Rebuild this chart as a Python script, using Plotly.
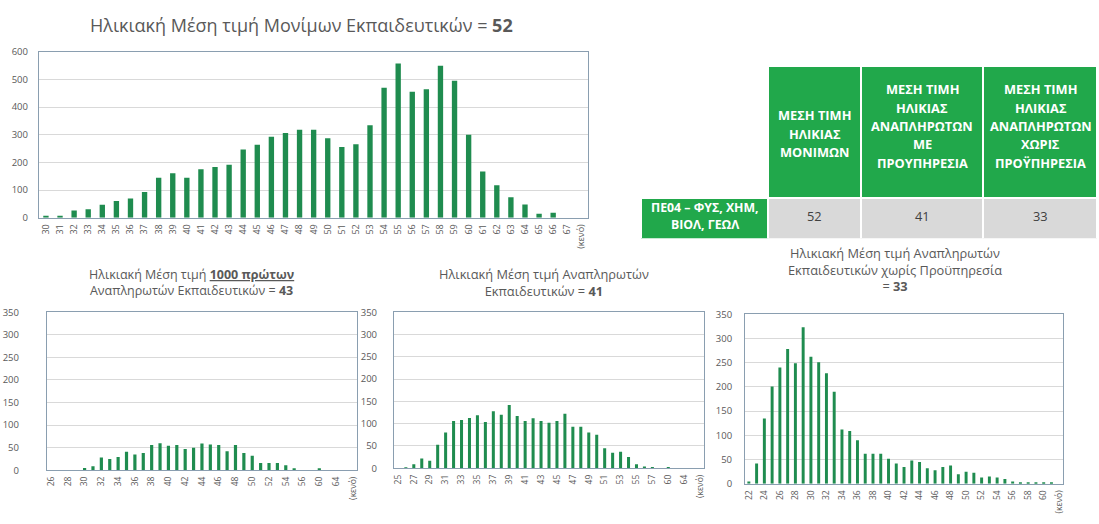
import plotly.graph_objects as go

# ---------------- DATA ----------------
top_cats = [str(a) for a in range(30, 68)] + ["(κενό)"]
top_vals = [5, 5, 26, 30, 47, 60, 69, 93, 144, 161, 144, 175, 183, 191, 247, 264, 293, 306, 318, 318,
            287, 256, 266, 334, 470, 558, 456, 465, 550, 495, 300, 167, 117, 74, 48, 14, 18, 0, 0]

first_cats = [str(a) for a in range(26, 58)] + ["60", "62", "64", "65", "(κενό)"]
first_vals = [0, 0, 0, 0, 5, 9, 28, 25, 29, 41, 35, 38, 56, 60, 54, 56, 47, 50, 59, 57, 56, 42, 56,
              38, 32, 16, 16, 16, 11, 4, 0, 0, 3, 0, 0, 0, 0]

subs_cats = [str(a) for a in range(25, 58)] + ["59", "60", "62", "64", "65", "(κενό)"]
subs_vals = [0, 2, 9, 22, 17, 53, 80, 106, 108, 113, 119, 104, 128, 120, 142, 117, 106, 112, 106, 102,
             106, 122, 93, 93, 80, 75, 45, 35, 37, 25, 9, 4, 3, 0, 3, 0, 0, 0, 0]

noexp_cats = [str(a) for a in range(22, 62)] + ["(κενό)"]
noexp_vals = [5, 42, 135, 201, 240, 278, 249, 323, 262, 251, 228, 190, 112, 109, 90, 62, 62, 62, 52, 42,
              35, 48, 45, 32, 28, 35, 38, 20, 25, 23, 13, 15, 13, 10, 5, 3, 3, 3, 3, 3, 0]

# table content
table_header_lines = [
    [],
    ["ΜΕΣΗ ΤΙΜΗ", "ΗΛΙΚΙΑΣ", "ΜΟΝΙΜΩΝ"],
    ["ΜΕΣΗ ΤΙΜΗ", "ΗΛΙΚΙΑΣ", "ΑΝΑΠΛΗΡΩΤΩΝ", "ΜΕ", "ΠΡΟΥΠΗΡΕΣΙΑ"],
    ["ΜΕΣΗ ΤΙΜΗ", "ΗΛΙΚΙΑΣ", "ΑΝΑΠΛΗΡΩΤΩΝ", "ΧΩΡΙΣ", "ΠΡΟΫΠΗΡΕΣΙΑ"],
]
table_row_label_lines = ["ΠΕ04 – ΦΥΣ, ΧΗΜ,", "ΒΙΟΛ, ΓΕΩΛ"]
table_values = ["52", "41", "33"]

titles = [
    "Ηλικιακή Μέση τιμή Μονίμων Εκπαιδευτικών = <b>52</b>",
    "Ηλικιακή Μέση τιμή <b><span style='text-decoration:underline'>1000 πρώτων</span></b><br>Αναπληρωτών Εκπαιδευτικών = <b>43</b>",
    "Ηλικιακή Μέση τιμή Αναπληρωτών<br>Εκπαιδευτικών = <b>41</b>",
    "Ηλικιακή Μέση τιμή Αναπληρωτών<br>Εκπαιδευτικών χωρίς Προϋπηρεσία<br>= <b>33</b>",
]

# ---------------- STYLE ----------------
W, H = 1099, 524
BAR = "#1f8c4f"
GREEN = "#21a84b"
GRAY_CELL = "#d9d9d9"
FRAME = "#8a9eb0"
GRID = "#d9d9d9"
TXT = "#595959"
FONT = "Open Sans"


def px(x):
    return x / W


def py(y):
    return 1 - y / H


fig = go.Figure()

charts = [
    (top_cats, top_vals, "x", "y"),
    (first_cats, first_vals, "x2", "y2"),
    (subs_cats, subs_vals, "x3", "y3"),
    (noexp_cats, noexp_vals, "x4", "y4"),
]
for cats, vals, xa, ya in charts:
    fig.add_trace(go.Bar(x=cats, y=vals, xaxis=xa, yaxis=ya, marker_color=BAR,
                         marker_line_width=0, showlegend=False, hoverinfo="x+y"))

# ---- table (fills by Table trace, text by annotations) ----
T_LEFT, T_RIGHT = 641, 1099
T_TOP, T_HEAD_BOTTOM, T_BOTTOM = 61, 193, 234
col_w = [127, 94, 122, 115]
scale = (T_RIGHT - T_LEFT) / sum(col_w)
col_edges = [T_LEFT]
for w in col_w:
    col_edges.append(col_edges[-1] + w * scale)
col_centers = [(a + b) / 2 for a, b in zip(col_edges[:-1], col_edges[1:])]

fig.add_trace(go.Table(
    domain=dict(x=[px(T_LEFT), 1.0], y=[py(T_BOTTOM + 4), py(T_TOP)]),
    columnwidth=col_w,
    header=dict(values=["", "", "", ""],
                fill_color=["white", GREEN, GREEN, GREEN],
                line=dict(color="white", width=2),
                height=T_HEAD_BOTTOM - T_TOP),
    cells=dict(values=[[""], [""], [""], [""]],
               fill_color=[GREEN, GRAY_CELL, GRAY_CELL, GRAY_CELL],
               line=dict(color="white", width=2),
               height=T_BOTTOM - T_HEAD_BOTTOM),
))


def add_lines(lines, cx, cy, spacing, size, color, bold):
    n = len(lines)
    for i, ln in enumerate(lines):
        yy = cy - (n - 1) / 2 * spacing + i * spacing
        fig.add_annotation(text=f"<b>{ln}</b>" if bold else ln, x=px(cx), y=py(yy),
                           xref="paper", yref="paper", showarrow=False,
                           xanchor="center", yanchor="middle",
                           font=dict(size=size, color=color, family=FONT))


head_cy = [0, 130, 122, 122]
for ci in range(1, 4):
    add_lines(table_header_lines[ci], col_centers[ci], head_cy[ci], 18.8, 12.8, "white", True)
row_cy = (T_HEAD_BOTTOM + T_BOTTOM) / 2 + 1
add_lines(table_row_label_lines, col_centers[0], row_cy, 17.5, 12.3, "white", True)
for ci, v in enumerate(table_values):
    add_lines([v], col_centers[ci + 1], row_cy, 17, 12.8, "#404040", False)


def xaxis(domain, cats, every, fsize):
    tv = cats[::every]
    return dict(domain=[px(domain[0]), px(domain[1])], type="category",
                categoryorder="array", categoryarray=cats,
                tickmode="array", tickvals=tv, ticktext=tv,
                tickangle=-90, tickfont=dict(size=fsize, color=TXT, family=FONT),
                showline=True, mirror=True, linecolor=FRAME, linewidth=1,
                showgrid=False, ticks="", fixedrange=True, ticklabelstandoff=2)


def yaxis(domain, top, dtick, standoff):
    return dict(domain=[py(domain[1]), py(domain[0])], range=[0, top], dtick=dtick,
                tickfont=dict(size=9.5, color=TXT, family=FONT),
                showline=True, mirror=True, linecolor=FRAME, linewidth=1,
                gridcolor=GRID, gridwidth=1, zeroline=False, ticks="", fixedrange=True,
                ticklabelstandoff=standoff)


fig.update_layout(
    width=W, height=H, margin=dict(l=0, r=0, t=0, b=0),
    paper_bgcolor="white", plot_bgcolor="white",
    bargap=0.62, font=dict(family=FONT, color=TXT),
    xaxis=dict(xaxis((37, 588), top_cats, 1, 9), anchor="y"),
    yaxis=dict(yaxis((46, 216), 600, 100, 8), anchor="x"),
    xaxis2=dict(xaxis((45, 356), first_cats, 2, 8.5), anchor="y2"),
    yaxis2=dict(yaxis((313, 475), 350, 50, 25), anchor="x2"),
    xaxis3=dict(xaxis((393, 704), subs_cats, 2, 8.5), anchor="y3"),
    yaxis3=dict(yaxis((313, 473), 350, 50, 14), anchor="x3"),
    xaxis4=dict(xaxis((745, 1064), noexp_cats, 2, 8.5), anchor="y4"),
    yaxis4=dict(yaxis((315, 489), 350, 50, 10), anchor="x4"),
)

title_pos = [(300, 18, 18), (190, 283, 12.5), (543, 283, 12.8), (895, 269, 12.8)]
for text, (x, y, size) in zip(titles, title_pos):
    fig.add_annotation(text=text, x=px(x), y=py(y), xref="paper", yref="paper",
                       showarrow=False, xanchor="center", yanchor="middle",
                       font=dict(size=size, color=TXT, family=FONT))

fig.write_html("out.html", config={"displayModeBar": False},
               post_script="document.body.style.margin='0';")
